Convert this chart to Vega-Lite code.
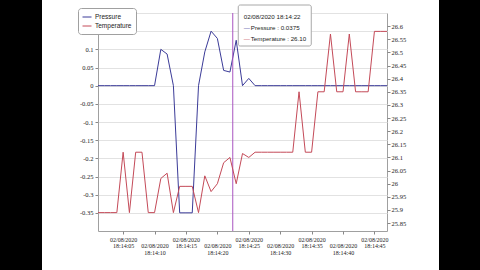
{
  "$schema": "https://vega.github.io/schema/vega-lite/v6.json",
  "background": "white",
  "padding": 0,
  "spacing": 0,
  "config": {"view": {"stroke": null}},
  "resolve": {"scale": {"color": "independent"}, "legend": {"color": "independent"}},
  "datasets": {
    "readings": [
      {"sec": 1, "pressure": 0, "temperature": 25.89},
      {"sec": 2, "pressure": 0, "temperature": 25.89},
      {"sec": 3, "pressure": 0, "temperature": 25.89},
      {"sec": 4, "pressure": 0, "temperature": 25.89},
      {"sec": 5, "pressure": 0, "temperature": 26.12},
      {"sec": 6, "pressure": 0, "temperature": 25.89},
      {"sec": 7, "pressure": 0, "temperature": 26.12},
      {"sec": 8, "pressure": 0, "temperature": 26.12},
      {"sec": 9, "pressure": 0, "temperature": 25.89},
      {"sec": 10, "pressure": 0, "temperature": 25.89},
      {"sec": 11, "pressure": 0.1, "temperature": 26.02},
      {"sec": 12, "pressure": 0.087, "temperature": 26.04},
      {"sec": 13, "pressure": 0, "temperature": 25.89},
      {"sec": 14, "pressure": -0.35, "temperature": 25.99},
      {"sec": 15, "pressure": -0.35, "temperature": 25.99},
      {"sec": 16, "pressure": -0.35, "temperature": 25.99},
      {"sec": 17, "pressure": 0, "temperature": 25.89},
      {"sec": 18, "pressure": 0.093, "temperature": 26.03},
      {"sec": 19, "pressure": 0.15, "temperature": 25.97},
      {"sec": 20, "pressure": 0.13, "temperature": 26.0},
      {"sec": 21, "pressure": 0.042, "temperature": 26.08},
      {"sec": 22, "pressure": 0.0375, "temperature": 26.1},
      {"sec": 23, "pressure": 0.125, "temperature": 26.0},
      {"sec": 24, "pressure": 0, "temperature": 26.115},
      {"sec": 25, "pressure": 0.02, "temperature": 26.1},
      {"sec": 26, "pressure": 0, "temperature": 26.12},
      {"sec": 27, "pressure": 0, "temperature": 26.12},
      {"sec": 28, "pressure": 0, "temperature": 26.12},
      {"sec": 29, "pressure": 0, "temperature": 26.12},
      {"sec": 30, "pressure": 0, "temperature": 26.12},
      {"sec": 31, "pressure": 0, "temperature": 26.12},
      {"sec": 32, "pressure": 0, "temperature": 26.12},
      {"sec": 33, "pressure": 0, "temperature": 26.35},
      {"sec": 34, "pressure": 0, "temperature": 26.12},
      {"sec": 35, "pressure": 0, "temperature": 26.12},
      {"sec": 36, "pressure": 0, "temperature": 26.35},
      {"sec": 37, "pressure": 0, "temperature": 26.35},
      {"sec": 38, "pressure": 0, "temperature": 26.57},
      {"sec": 39, "pressure": 0, "temperature": 26.35},
      {"sec": 40, "pressure": 0, "temperature": 26.35},
      {"sec": 41, "pressure": 0, "temperature": 26.57},
      {"sec": 42, "pressure": 0, "temperature": 26.35},
      {"sec": 43, "pressure": 0, "temperature": 26.35},
      {"sec": 44, "pressure": 0, "temperature": 26.35},
      {"sec": 45, "pressure": 0, "temperature": 26.58},
      {"sec": 46, "pressure": 0, "temperature": 26.58},
      {"sec": 47, "pressure": 0, "temperature": 26.58}
    ],
    "cursor": [
      {"sec": 22.45, "stamp": "02/08/2020 18:14:22", "p": "Pressure : 0.0375", "tt": "Temperature : 26.10"}
    ]
  },
  "hconcat": [
    {
      "width": 42, "height": 270,
      "data": {"values": []},
      "mark": "point",
      "view": {"fill": "black", "stroke": null}
    },
    {
      "spacing": 0,
      "resolve": {"scale": {"color": "independent"}, "legend": {"color": "independent"}},
      "vconcat": [
        {
          "width": 289, "height": 4,
          "data": {"values": []},
          "mark": "point",
          "view": {"stroke": null}
        },
        {
          "width": 289, "height": 218,
          "view": {"stroke": "#a0a0a0", "fill": "white"},
          "layer": [
            {
              "layer": [
                {
                  "data": {"name": "readings"},
                  "mark": {"type": "line", "strokeWidth": 1},
                  "encoding": {
                    "x": {
                      "field": "sec", "type": "quantitative",
                      "scale": {"domain": [1, 47], "nice": false, "zero": false},
                      "axis": {
                        "title": null, "grid": false, "domain": false,
                        "values": [5, 10, 15, 20, 25, 30, 35, 40, 45], "tickCount": 100,
                        "tickSize": 3, "tickColor": "#888888",
                        "labelFont": "Liberation Serif", "labelFontSize": 6, "labelLineHeight": 6.5,
                        "labelPadding": 2, "labelColor": "#222222",
                        "labelOverlap": false, "labelFlush": false, "labelBound": false,
                        "labelExpr": "datum.value % 10 == 5 ? ['02/08/2020', '18:14:' + (datum.value < 10 ? '0' : '') + datum.value] : [' ', ' ', '02/08/2020', '18:14:' + datum.value]"
                      }
                    },
                    "y": {
                      "field": "pressure", "type": "quantitative",
                      "scale": {"domain": [-0.4, 0.2], "nice": false, "zero": false},
                      "axis": {
                        "orient": "left", "title": null,
                        "values": [-0.35, -0.3, -0.25, -0.2, -0.15, -0.1, -0.05, 0, 0.05, 0.1, 0.15, 0.2], "tickCount": 100,
                        "labelExpr": "datum.value > 0.12 ? '' : toString(datum.value)",
                        "grid": true, "gridColor": "#e2e2e2", "domain": false, "labelOverlap": false,
                        "tickSize": 3, "tickColor": "#888888", "labelPadding": 2,
                        "labelFont": "Liberation Serif", "labelFontSize": 6.5, "labelColor": "#222222",
                        "minExtent": 55
                      }
                    },
                    "color": {
                      "datum": "Pressure", "type": "nominal",
                      "scale": {"domain": ["Pressure", "Temperature"], "range": ["#3b3b98", "#c44a58"]},
                      "legend": {
                        "orient": "none", "legendX": -20, "legendY": -5, "title": null,
                        "symbolType": "stroke", "symbolSize": 81, "symbolStrokeWidth": 1,
                        "labelFont": "Liberation Sans", "labelFontSize": 6.5, "labelColor": "#222222",
                        "labelOffset": 3, "rowPadding": 0,
                        "strokeColor": "#a0a0a0", "fillColor": "white", "padding": 4, "cornerRadius": 3
                      }
                    }
                  }
                },
                {
                  "data": {"name": "cursor"},
                  "mark": {"type": "rule", "color": "#a855c0", "strokeWidth": 1},
                  "encoding": {"x": {"field": "sec", "type": "quantitative"}}
                },
                {
                  "data": {"name": "cursor"},
                  "mark": {"type": "rect", "fill": "white", "stroke": "#a8a8a8", "strokeWidth": 1, "cornerRadius": 2,
                           "xOffset": 5.5, "x2Offset": 78.5, "yOffset": -8, "y2Offset": 33},
                  "encoding": {
                    "x": {"field": "sec", "type": "quantitative"},
                    "x2": {"field": "sec"},
                    "y": {"datum": 0.2},
                    "y2": {"datum": 0.2}
                  }
                },
                {
                  "data": {"name": "cursor"},
                  "mark": {"type": "text", "align": "left", "baseline": "middle", "dx": 11, "dy": 4,
                           "font": "Liberation Sans", "fontSize": 6.2, "color": "#222222"},
                  "encoding": {
                    "x": {"field": "sec", "type": "quantitative"},
                    "y": {"datum": 0.2},
                    "text": {"field": "stamp"}
                  }
                },
                {
                  "data": {"name": "cursor"},
                  "mark": {"type": "text", "align": "left", "baseline": "middle", "dx": 11, "dy": 15,
                           "font": "Liberation Sans", "fontSize": 6.2, "color": "#3b3b98", "text": "—"},
                  "encoding": {
                    "x": {"field": "sec", "type": "quantitative"},
                    "y": {"datum": 0.2}
                  }
                },
                {
                  "data": {"name": "cursor"},
                  "mark": {"type": "text", "align": "left", "baseline": "middle", "dx": 18, "dy": 15,
                           "font": "Liberation Sans", "fontSize": 6.2, "color": "#222222"},
                  "encoding": {
                    "x": {"field": "sec", "type": "quantitative"},
                    "y": {"datum": 0.2},
                    "text": {"field": "p"}
                  }
                },
                {
                  "data": {"name": "cursor"},
                  "mark": {"type": "text", "align": "left", "baseline": "middle", "dx": 11, "dy": 26,
                           "font": "Liberation Sans", "fontSize": 6.2, "color": "#c44a58", "text": "—"},
                  "encoding": {
                    "x": {"field": "sec", "type": "quantitative"},
                    "y": {"datum": 0.2}
                  }
                },
                {
                  "data": {"name": "cursor"},
                  "mark": {"type": "text", "align": "left", "baseline": "middle", "dx": 18, "dy": 26,
                           "font": "Liberation Sans", "fontSize": 6.2, "color": "#222222"},
                  "encoding": {
                    "x": {"field": "sec", "type": "quantitative"},
                    "y": {"datum": 0.2},
                    "text": {"field": "tt"}
                  }
                }
              ]
            },
            {
              "data": {"name": "readings"},
              "mark": {"type": "line", "strokeWidth": 1},
              "encoding": {
                "x": {"field": "sec", "type": "quantitative"},
                "y": {
                  "field": "temperature", "type": "quantitative",
                  "scale": {"domain": [25.82, 26.65], "nice": false, "zero": false},
                  "axis": {
                    "orient": "right", "title": null,
                    "values": [25.85, 25.9, 25.95, 26, 26.05, 26.1, 26.15, 26.2, 26.25, 26.3, 26.35, 26.4, 26.45, 26.5, 26.55, 26.6], "tickCount": 100,
                    "labelExpr": "toString(datum.value)", "labelOverlap": false,
                    "grid": false, "domain": false,
                    "tickSize": 3, "tickColor": "#888888", "labelPadding": 1,
                    "labelFont": "Liberation Serif", "labelFontSize": 6.5, "labelColor": "#222222",
                    "minExtent": 51
                  }
                },
                "color": {"datum": "Temperature", "type": "nominal"}
              }
            }
          ],
          "resolve": {"scale": {"y": "independent"}}
        }
      ]
    },
    {
      "width": 43, "height": 270,
      "data": {"values": []},
      "mark": "point",
      "view": {"fill": "black", "stroke": null}
    }
  ]
}
